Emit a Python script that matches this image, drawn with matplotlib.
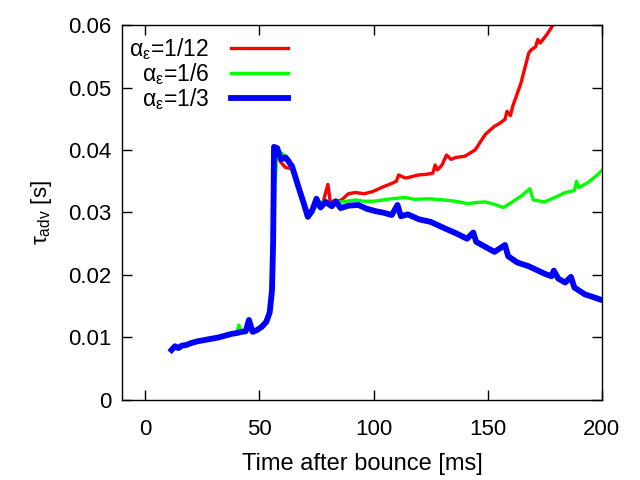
import matplotlib
matplotlib.use('Agg')
from matplotlib import pyplot as plt

# advection timescale vs time after bounce
t_early = [11.5, 13, 14.5, 16, 18, 20, 23, 26, 29, 32, 35, 38, 40, 42, 44,
           45.4, 47, 49, 51, 53, 54.5, 55.5]
tau_early = [0.0080, 0.0086, 0.0083, 0.0087, 0.0088, 0.0091, 0.0094, 0.0096,
             0.0098, 0.0100, 0.0103, 0.0106, 0.0107, 0.0109, 0.0110, 0.0128,
             0.0109, 0.0112, 0.0117, 0.0125, 0.0140, 0.0175]

t_12 = [56, 56.4, 57.8, 59.4, 61.5, 64.3, 67, 69.4, 71.5, 73, 76, 78, 80, 81,
        84, 86, 89, 92, 96, 100, 103.5, 107, 110, 111, 114, 119.6, 123, 126,
        127, 128, 130, 132, 134, 136, 140, 144.5, 149, 153, 155, 157.6, 158.5,
        160, 161, 164.6, 168, 169, 171, 172, 173, 176, 179, 181]
tau_12 = [0.0250, 0.0400, 0.0400, 0.0380, 0.0372, 0.0370, 0.0340, 0.0316,
          0.0300, 0.0305, 0.0313, 0.0318, 0.0345, 0.0318, 0.0318, 0.0320,
          0.0330, 0.0332, 0.0330, 0.0334, 0.0340, 0.0345, 0.0350, 0.0360,
          0.0355, 0.0360, 0.0361, 0.0363, 0.0376, 0.0368, 0.0376, 0.0392,
          0.0385, 0.0388, 0.0390, 0.0400, 0.0425, 0.0438, 0.0442, 0.0449,
          0.0462, 0.0455, 0.0470, 0.0507, 0.0555, 0.0560, 0.0565, 0.0577,
          0.0571, 0.0585, 0.0602, 0.0620]

t_6 = [56, 56.8, 57.8, 60.7, 63, 66, 68, 70, 72, 75, 78, 81, 84, 88, 92, 96,
       100, 104, 108, 114, 118, 124, 131, 136, 141.5, 145, 149, 153, 157, 160,
       164.6, 168.5, 170, 175, 180, 184, 188, 189, 190, 194, 198, 200]
tau_6 = [0.0220, 0.0340, 0.0400, 0.0392, 0.0385, 0.0350, 0.0330, 0.0305,
         0.0300, 0.0310, 0.0318, 0.0313, 0.0316, 0.0318, 0.0320, 0.0318,
         0.0318, 0.0320, 0.0322, 0.0324, 0.0321, 0.0322, 0.0320, 0.0318,
         0.0314, 0.0316, 0.0317, 0.0313, 0.0308, 0.0315, 0.0326, 0.0338,
         0.0320, 0.0317, 0.0325, 0.0332, 0.0335, 0.0350, 0.0340, 0.0348,
         0.0360, 0.0367]

t_3 = [56, 56.4, 57.8, 59.4, 61.5, 64.3, 67, 69.4, 71.2, 73, 75, 76.8, 79,
       81.7, 83.4, 85.6, 89, 93.4, 97, 101, 104, 108, 110.5, 112, 115, 120,
       125, 131, 136, 141, 143.7, 145, 150, 153, 157.6, 159, 163, 168, 175,
       178, 179, 181, 184, 186.5, 188, 192.6, 196, 200]
tau_3 = [0.0250, 0.0405, 0.0403, 0.0385, 0.0388, 0.0374, 0.0342, 0.0315,
         0.0293, 0.0302, 0.0322, 0.0308, 0.0317, 0.0310, 0.0318, 0.0307,
         0.0311, 0.0312, 0.0306, 0.0302, 0.0300, 0.0296, 0.0312, 0.0294,
         0.0297, 0.0289, 0.0285, 0.0275, 0.0267, 0.0258, 0.0268, 0.0253,
         0.0243, 0.0237, 0.0248, 0.0230, 0.0220, 0.0214, 0.0202, 0.0198,
         0.0207, 0.0194, 0.0188, 0.0197, 0.0180, 0.0169, 0.0165, 0.0160]

# green run has a small extra blip around 41 ms
t_early_6 = [11.5, 13, 14.5, 16, 18, 20, 23, 26, 29, 32, 35, 38, 40, 41, 42,
             44, 45.4, 47, 49, 51, 53, 54.5, 55.5]
tau_early_6 = [0.0080, 0.0086, 0.0083, 0.0087, 0.0088, 0.0091, 0.0094,
               0.0096, 0.0098, 0.0100, 0.0103, 0.0106, 0.0107, 0.0120,
               0.0109, 0.0110, 0.0126, 0.0109, 0.0112, 0.0117, 0.0124,
               0.0136, 0.0165]

labels = [r'$\mathrm{\alpha_{\varepsilon}}$=1/12',
          r'$\mathrm{\alpha_{\varepsilon}}$=1/6',
          r'$\mathrm{\alpha_{\varepsilon}}$=1/3']

plt.rcParams['font.family'] = ['Liberation Sans', 'DejaVu Sans']
plt.rcParams['mathtext.fontset'] = 'custom'
plt.rcParams['mathtext.rm'] = 'Liberation Sans'
plt.rcParams['mathtext.it'] = 'Liberation Sans:italic'
plt.rcParams['font.size'] = 16

fig = plt.figure(figsize=(6.4, 4.8), dpi=100)
ax = fig.add_axes([0.1914, 0.1667, 0.9402 - 0.1914, 0.9479 - 0.1667])

ax.plot(t_early + t_12, tau_early + tau_12, color='#ff0000', lw=2.4, label=labels[0])
ax.plot(t_early_6 + t_6, tau_early_6 + tau_6, color='#00ff00', lw=2.4, label=labels[1])
ax.plot(t_early + t_3, tau_early + tau_3, color='#0000ff', lw=4.2, label=labels[2])

ax.set_xlim(-10, 200)
ax.set_ylim(0, 0.06)
ax.set_xticks([0, 50, 100, 150, 200])
ax.set_yticks([0, 0.01, 0.02, 0.03, 0.04, 0.05, 0.06])
ax.set_yticklabels(['0', '0.01', '0.02', '0.03', '0.04', '0.05', '0.06'])
ax.tick_params(direction='in', length=7, width=1, top=True, right=True)
ax.tick_params(axis='x', pad=14)
ax.tick_params(axis='y', pad=8)
for s in ax.spines.values():
    s.set_linewidth(1)

ax.set_xlabel('Time after bounce [ms]', fontsize=17, labelpad=9)
ax.set_ylabel(r'$\mathrm{\tau_{adv}}$ [s]', labelpad=10)

leg = ax.legend(loc='upper left', bbox_to_anchor=(-0.015, 1.008), frameon=False,
                markerfirst=False, handlelength=2.5, handletextpad=0.95,
                labelspacing=-0.04, borderaxespad=0.2, fontsize=16.5)
# right-justify the entries like gnuplot does
leg._legend_handle_box.get_children()[0].align = 'right'

fig.savefig('out.png', dpi=100)
